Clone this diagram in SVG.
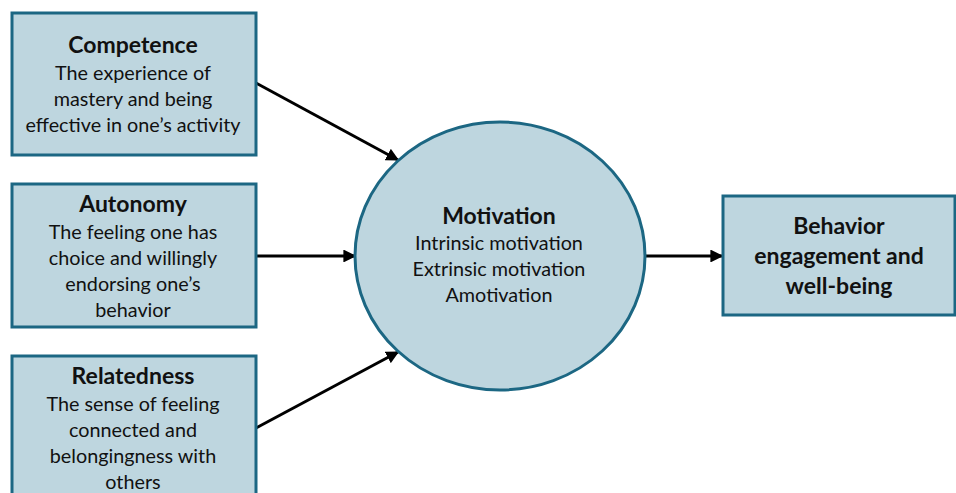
<svg xmlns="http://www.w3.org/2000/svg" width="956" height="493" viewBox="0 0 956 493">
<style>
.box{fill:#BED6DF;stroke:#1C6783;stroke-width:3}
.t{font-family:Lato,"Open Sans","Liberation Sans",sans-serif;font-size:19.8px;fill:#111;text-anchor:middle}
.b{font-weight:bold;font-size:23px}
.c{stroke:#000;stroke-width:3;fill:none;marker-end:url(#ah)}
</style>
<defs>
<marker id="ah" viewBox="0 0 10 10" refX="9" refY="5" markerWidth="4.3" markerHeight="4.3" orient="auto" markerUnits="strokeWidth">
<path d="M0,0 L10,5 L0,10 z" fill="#000"/>
</marker>
</defs>
<rect width="956" height="493" fill="#fff"/>
<g id="connectors">
<line class="c" x1="256" y1="83" x2="398" y2="160"/>
<line class="c" x1="256" y1="256" x2="355" y2="256"/>
<line class="c" x1="256" y1="428" x2="398" y2="352"/>
<line class="c" x1="645" y1="256" x2="722" y2="256"/>
</g>
<g id="competence">
<rect class="box" x="12" y="13" width="244" height="142"/>
<text class="t b" x="133" y="53">Competence</text>
<text class="t" x="133" y="80">The experience of</text>
<text class="t" x="133" y="106">mastery and being</text>
<text class="t" x="133" y="132">effective in one’s activity</text>
</g>
<g id="autonomy">
<rect class="box" x="12" y="184" width="244" height="143"/>
<text class="t b" x="133" y="212">Autonomy</text>
<text class="t" x="133" y="239">The feeling one has</text>
<text class="t" x="133" y="265">choice and willingly</text>
<text class="t" x="133" y="291">endorsing one’s</text>
<text class="t" x="133" y="317">behavior</text>
</g>
<g id="relatedness">
<rect class="box" x="12" y="356" width="244" height="145"/>
<text class="t b" x="133" y="384">Relatedness</text>
<text class="t" x="133" y="411">The sense of feeling</text>
<text class="t" x="133" y="437">connected and</text>
<text class="t" x="133" y="463">belongingness with</text>
<text class="t" x="133" y="489">others</text>
</g>
<g id="motivation">
<ellipse class="box" cx="500" cy="256" rx="145" ry="134"/>
<text class="t b" x="499" y="224">Motivation</text>
<text class="t" x="499" y="250">Intrinsic motivation</text>
<text class="t" x="499" y="276">Extrinsic motivation</text>
<text class="t" x="499" y="302">Amotivation</text>
</g>
<g id="behavior">
<rect class="box" x="723" y="196" width="232" height="119"/>
<text class="t b" x="839" y="234">Behavior</text>
<text class="t b" x="839" y="264">engagement and</text>
<text class="t b" x="839" y="294">well-being</text>
</g>
</svg>
